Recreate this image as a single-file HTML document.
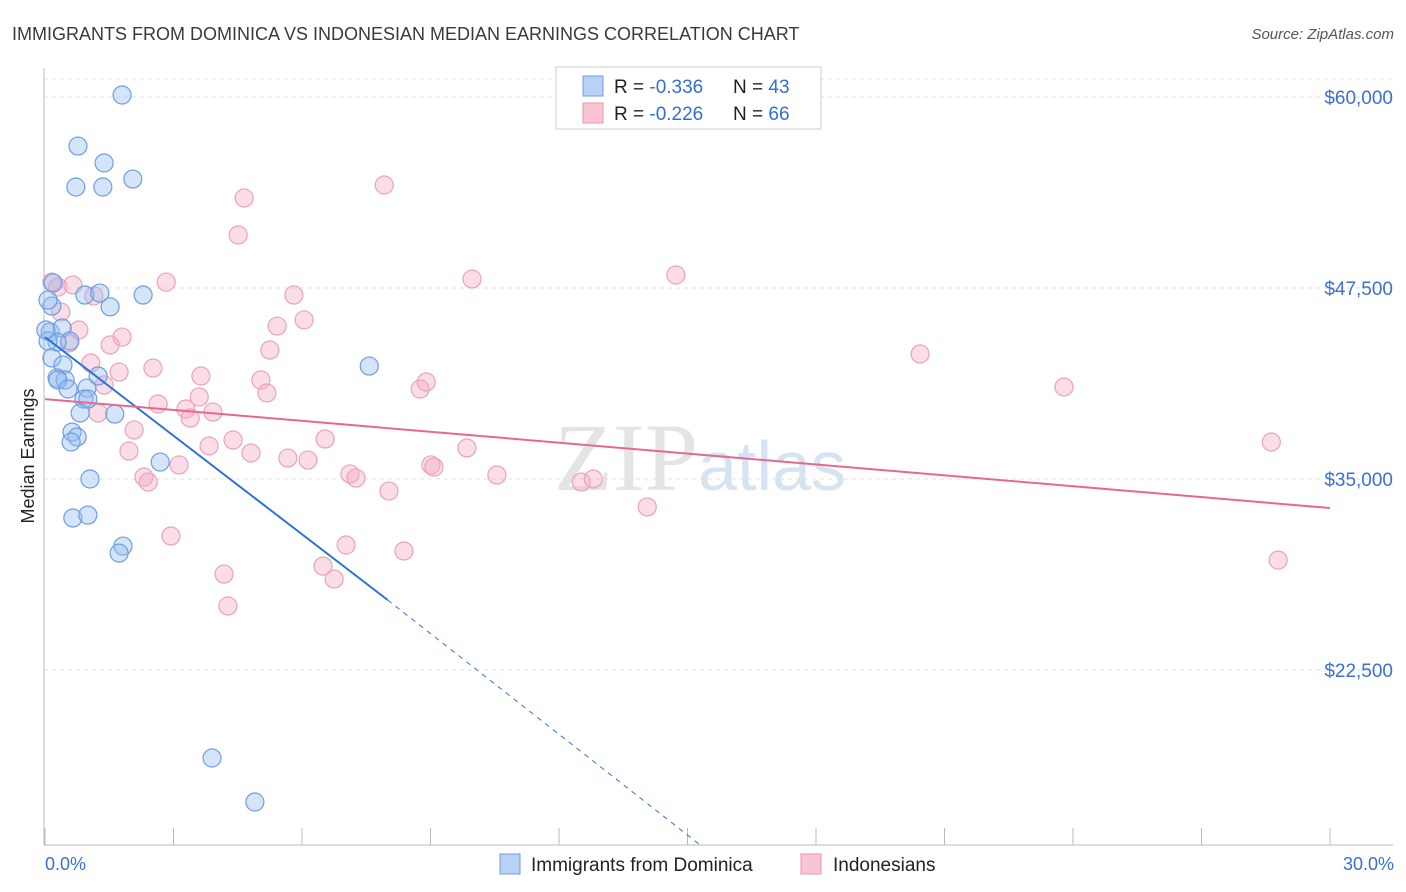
<!DOCTYPE html>
<html><head><meta charset="utf-8"><style>
body{margin:0;background:#fff;font-family:"Liberation Sans",sans-serif}
svg{display:block}
</style></head><body>
<svg id="c" width="1406" height="892" xmlns="http://www.w3.org/2000/svg">
<text x="12" y="40" font-size="18" fill="#3a3a3a">IMMIGRANTS FROM DOMINICA VS INDONESIAN MEDIAN EARNINGS CORRELATION CHART</text>
<text x="1394" y="39" font-size="15" fill="#555" font-style="italic" text-anchor="end">Source: ZipAtlas.com</text>
<g id="grid"></g>
<text x="700" y="490" font-size="96" fill="#e4e4e4" text-anchor="middle" font-family="Liberation Serif,serif">ZIP<tspan fill="#d6e3f3" font-family="Liberation Sans,sans-serif" font-size="70">atlas</tspan></text>
<g id="pts"></g>
<g id="lines"></g>
<text transform="translate(34,456) rotate(-90)" font-size="18" fill="#222" text-anchor="middle">Median Earnings</text>
<text x="45" y="870" font-size="18" fill="#3a6fd8">0.0%</text>
<text x="1394" y="870" font-size="18" fill="#3a6fd8" text-anchor="end">30.0%</text>
<g>
<rect x="556" y="67" width="265" height="62" fill="#fff" stroke="#ccc"/>
<rect x="583" y="76" width="20" height="20" fill="#b9d1f5" stroke="#6f9be3"/>
<rect x="583" y="103" width="20" height="20" fill="#f9c4d4" stroke="#ea94b0"/>
<text x="614" y="93" font-size="19" fill="#222">R = <tspan fill="#2f6fd8">-0.336</tspan></text>
<text x="733" y="93" font-size="19" fill="#222">N = <tspan fill="#2f6fd8">43</tspan></text>
<text x="614" y="120" font-size="19" fill="#222">R = <tspan fill="#2f6fd8">-0.226</tspan></text>
<text x="733" y="120" font-size="19" fill="#222">N = <tspan fill="#2f6fd8">66</tspan></text>
</g>
<g>
<rect x="500" y="854" width="20" height="20" fill="#b9d1f5" stroke="#6f9be3"/>
<text x="531" y="871" font-size="19" fill="#222">Immigrants from Dominica</text>
<rect x="801" y="854" width="20" height="20" fill="#f9c4d4" stroke="#ea94b0"/>
<text x="833" y="871" font-size="19" fill="#222">Indonesians</text>
</g>
</svg>
<script>
const yTicks=[60000,47500,35000,22500];
const yTickLabels=["$60,000","$47,500","$35,000","$22,500"];
const xTicks=[0,3,6,9,12,15,18,21,24,27,30];
const blueX=[1.80,0.77,1.38,0.72,1.35,2.05,0.19,0.93,1.28,2.29,1.52,0.16,0.12,0.40,0.58,0.28,0.07,0.16,0.42,0.28,0.47,0.30,0.54,0.98,1.24,0.91,1.00,0.82,1.63,0.63,0.75,0.61,1.05,2.69,0.65,1.00,1.82,1.73,7.57,3.90,4.90,0.02,0.07];
const blueY=[60130,56790,55680,54110,54110,54630,47830,47040,47170,47040,46270,46320,44620,44880,44030,43960,44030,42920,42460,41610,41480,41480,40890,40950,41740,40230,40230,39320,39250,38070,37750,37420,35000,36110,32450,32640,30610,30150,42390,16740,13860,44750,46710];
const pinkX=[0.16,0.30,0.65,1.14,0.37,0.79,0.56,1.80,1.52,1.07,1.73,1.38,1.24,2.08,1.96,2.52,2.64,2.83,3.29,3.39,3.64,3.60,3.92,3.83,4.39,4.81,5.04,5.18,4.65,4.51,5.81,6.05,5.42,5.25,7.92,9.97,14.73,20.43,23.79,28.63,28.79,5.67,6.14,6.54,7.12,7.26,8.03,8.76,8.90,9.01,9.08,9.85,10.55,12.52,12.80,14.06,3.13,2.31,2.41,2.94,4.18,4.27,7.03,6.49,6.75,8.38];
const pinkY=[47890,47560,47700,46980,45930,44750,43900,44290,43770,42590,42000,41150,39320,38210,36830,42260,39910,47890,39580,38990,41740,40370,39380,37160,37550,36700,41480,40630,53390,50970,47040,45410,45010,43440,54240,48090,48350,43180,41020,37420,29690,36370,36240,37620,35330,35060,34210,40890,41350,35920,35780,37030,35260,34800,35000,33170,35920,35130,34800,31270,28780,26690,30680,29300,28450,30290];
const blueTrend=[[0,44290],[8.0,27080],[15.3,11040]];
const pinkTrend=[[0,40230],[30,33100]];
const NS="http://www.w3.org/2000/svg";
const X=v=>45+v/30*1285, Y=v=>97+(60000-v)/12500*191;
function mk(t,a,p){const e=document.createElementNS(NS,t);for(const k in a)e.setAttribute(k,a[k]);p.appendChild(e);return e;}
const g=document.getElementById('grid');
mk('line',{x1:44,y1:68,x2:44,y2:845,stroke:'#bbb'},g);
mk('line',{x1:44,y1:845,x2:1393,y2:845,stroke:'#bbb'},g);
mk('line',{x1:44,y1:79,x2:1393,y2:79,stroke:'#e3e3e3','stroke-dasharray':'4,4'},g);
yTicks.forEach((v,i)=>{
const l=mk('line',{x1:44,y1:Y(v),x2:1393,y2:Y(v),stroke:'#e0e0e0','stroke-dasharray':'4,4'},g);


const t=mk('text',{x:1393,y:Y(v)+7,'font-size':19,fill:'#3a6fd8','text-anchor':'end'},g);
t.textContent=yTickLabels[i];


});
xTicks.forEach(v=>{
const l=mk('line',{x1:X(v),y1:828,x2:X(v),y2:845,stroke:'#bbb'},g);


});
const p=document.getElementById('pts');
pinkX.forEach((x,i)=>{
const c=mk('circle',{cx:X(x),cy:Y(pinkY[i]),r:9,fill:'rgba(246,170,195,0.4)',stroke:'#eba2ba','stroke-width':1.2},p);


});
blueX.forEach((x,i)=>{
const c=mk('circle',{cx:X(x),cy:Y(blueY[i]),r:9,fill:'rgba(150,190,240,0.4)',stroke:'#6d9de3','stroke-width':1.2},p);


});
const L=document.getElementById('lines');
let b=mk('line',{x1:X(blueTrend[0][0]),y1:Y(blueTrend[0][1]),x2:X(blueTrend[1][0]),y2:Y(blueTrend[1][1]),stroke:'#2f73d8','stroke-width':2},L);


let bd=mk('line',{x1:X(blueTrend[1][0]),y1:Y(blueTrend[1][1]),x2:X(blueTrend[2][0]),y2:Y(blueTrend[2][1]),stroke:'#2f73d8','stroke-width':1,'stroke-dasharray':'5,5'},L);


let pk=mk('line',{x1:X(pinkTrend[0][0]),y1:Y(pinkTrend[0][1]),x2:X(pinkTrend[1][0]),y2:Y(pinkTrend[1][1]),stroke:'#e8678f','stroke-width':2},L);


</script>
</body></html>
